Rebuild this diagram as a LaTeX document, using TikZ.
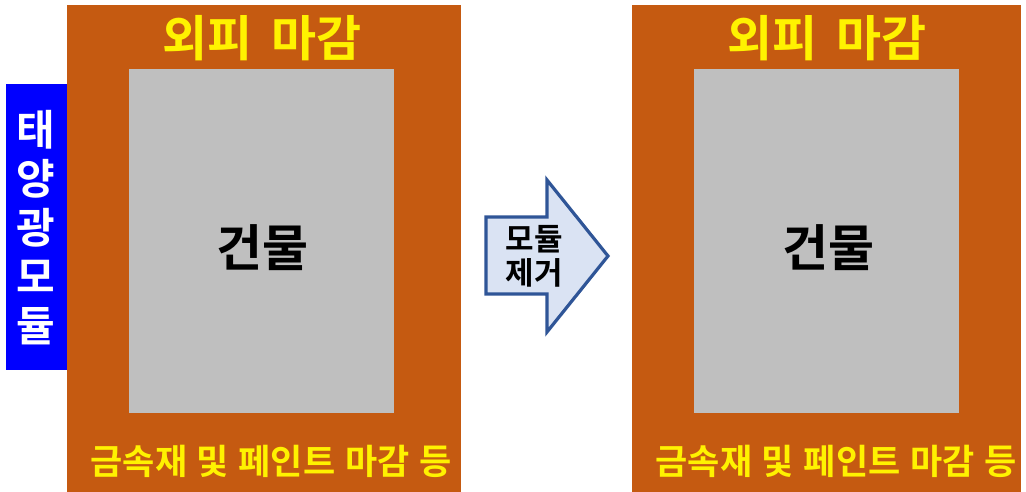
\documentclass[tikz,border=0pt]{standalone}
\usepackage{fontspec}
\newfontfamily\kr{Noto Sans CJK KR}[BoldFont={Noto Sans CJK KR Bold}]
\definecolor{wallorange}{HTML}{C55A11}
\definecolor{bldgray}{HTML}{BFBFBF}
\definecolor{pvblue}{HTML}{0000FF}
\definecolor{arrowfill}{HTML}{DAE3F3}
\definecolor{arrowline}{HTML}{2F5597}
\tikzset{
  wall/.style={fill=wallorange, draw=none},
  bldg/.style={fill=bldgray, draw=none},
  title/.style={text=yellow, font=\kr\bfseries\fontsize{49}{52}\selectfont, inner sep=0},
  foot/.style={text=yellow, font=\kr\bfseries\fontsize{35}{38}\selectfont, inner sep=0},
  bname/.style={text=black, font=\kr\bfseries\fontsize{50}{54}\selectfont, inner sep=0},
}
\begin{document}
\begin{tikzpicture}[x=1pt,y=-1pt]
\useasboundingbox (0,0) rectangle (1026,492);
% left
\fill[wall] (67,5) rectangle (461,492);
\fill[bldg] (129,69) rectangle (394,413);
\fill[pvblue] (6,84) rectangle (67,370);
\node[title] (t1) at (262,38) {외피\hspace{0.15em} 마감};
\node[bname] (b1) at (262,248) {건물};
\node[foot] (f1) at (271,461) {금속재\hspace{0.05em} 및\hspace{0.05em} 페인트\hspace{0.05em} 마감\hspace{0.05em} 등};
\node[text=white, font=\kr\bfseries\fontsize{42}{49}\selectfont, align=center, inner sep=0] (pv) at (36,228) {태\\양\\광\\모\\듈};
% arrow
\draw[fill=arrowfill, draw=arrowline, line width=3.2pt, line join=miter]
  (486,217) -- (547,217) -- (547,180) -- (608,256) -- (547,332) -- (547,294) -- (486,294) -- cycle;
\node[font=\kr\bfseries\fontsize{31}{34}\selectfont, align=center, inner sep=0] (ar) at (534,256) {모듈\\제거};
% right
\fill[wall] (632,5) rectangle (1021,492);
\fill[bldg] (694,69) rectangle (959,413);
\node[title] (t2) at (827,38) {외피\hspace{0.15em} 마감};
\node[bname] (b2) at (828,248) {건물};
\node[foot] (f2) at (836,461) {금속재\hspace{0.05em} 및\hspace{0.05em} 페인트\hspace{0.05em} 마감\hspace{0.05em} 등};
\end{tikzpicture}
\end{document}
